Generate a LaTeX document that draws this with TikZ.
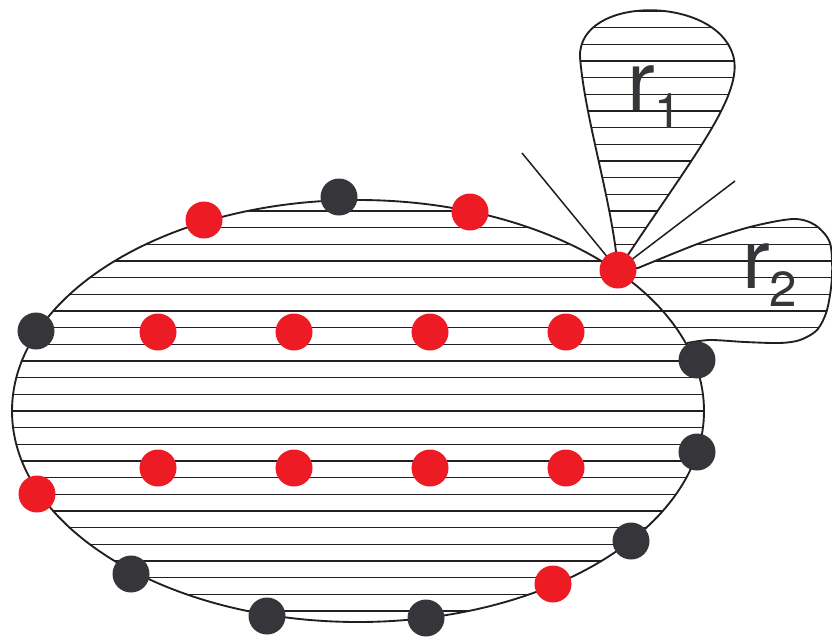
\documentclass[tikz,border=0pt]{standalone}
\usepackage{fontspec}
\setmainfont{TeX Gyre Heros}
\usepackage{tikz}
\usetikzlibrary{positioning, calc}
\definecolor{dotred}{RGB}{237, 28, 36}
\definecolor{dotgray}{RGB}{54, 54, 58}
\definecolor{inkgray}{RGB}{35, 31, 32}
\newcommand{\subfont}{\fontsize{42pt}{42pt}\selectfont}
\newcommand{\hatchrows}{%
  \foreach \k in {-24,...,13}
    \draw[hatch] (0,411+16.67*\k) -- (832,411+16.67*\k);}
\newcommand{\lobeone}{(hub) .. controls (612,200) and (585,120) .. (580,57)
  .. controls (578,-5) and (715,-5) .. (733,55)
  .. controls (745,95) and (690,160) .. (hub)}
\newcommand{\lobetwo}{(hub) -- plot[smooth] coordinates {(638,268) (700,243)
  (750,227) (793,219) (815,225) (830,243) (832,277) (827,310) (817,330)
  (800,340) (780,343) (745,342) (710,340) (687,343)}}
\tikzset{
  hatch/.style={draw=inkgray, line width=1.3pt},
  rim/.style={draw=inkgray, line width=1.6pt},
  spoke/.style={draw=inkgray, line width=1.3pt},
  dotR/.style={circle, fill=dotred, minimum size=1.11cm, inner sep=0pt},
  dotK/.style={circle, fill=dotgray, minimum size=1.11cm, inner sep=0pt},
  lbl/.style={text=dotgray, font=\fontsize{71pt}{71pt}\selectfont, inner sep=0pt},
}

\begin{document}
\begin{tikzpicture}[x=0.03cm, y=-0.03cm]
  \useasboundingbox (0,0) rectangle (832,638);
  \coordinate (hub) at (618,270);
  \coordinate (sp1) at (522,153);
  \coordinate (sp2) at (735,181);
  % hatching inside the ellipse and the two lobes
  \begin{scope}
    \clip (358,411) ellipse [x radius=346, y radius=211];
    \hatchrows
  \end{scope}
  \begin{scope}
    \clip \lobeone -- cycle;
    \hatchrows
  \end{scope}
  \begin{scope}
    \clip \lobetwo -- cycle;
    \hatchrows
  \end{scope}
  % outlines
  \draw[rim] (358,411) ellipse [x radius=346, y radius=211];
  \draw[rim] \lobeone;
  \draw[rim] \lobetwo;
  % spokes
  \draw[spoke] (sp1) -- (hub);
  \draw[spoke] (sp2) -- (hub);
  % boundary points
  \node[dotR] (b1) at (hub) {};
  \node[dotK] (b2) at (697,360) {};
  \node[dotK] (b3) at (697,452) {};
  \node[dotK] (b4) at (631,541) {};
  \node[dotR] (b5) at (553,584) {};
  \node[dotK] (b6) at (426,618) {};
  \node[dotK] (b7) at (267,616) {};
  \node[dotK] (b8) at (131,574) {};
  \node[dotR] (b9) at (37,494) {};
  \node[dotK] (b10) at (36,331) {};
  \node[dotR] (b11) at (204,220) {};
  \node[dotK] (b12) at (339,197) {};
  \node[dotR] (b13) at (470,212) {};
  % interior points
  \foreach \x [count=\i] in {158,294,430,566} {
    \node[dotR] (u\i) at (\x,332) {};
    \node[dotR] (l\i) at (\x,468) {};
  }
  % lobe labels
  \node[lbl, anchor=base west] (lr1) at (627,110) {r\raisebox{-0.54cm}{\subfont 1}};
  \node[lbl, anchor=base west] (lr2) at (742,288) {r\raisebox{-0.56cm}{\subfont 2}};
\end{tikzpicture}
\end{document}
